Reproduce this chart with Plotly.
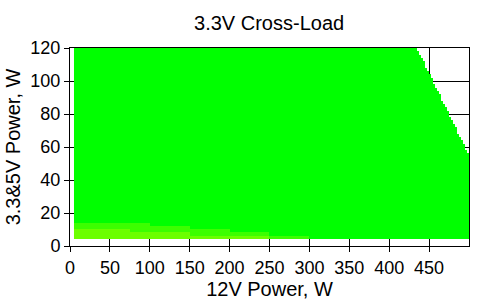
import plotly.graph_objects as go

# ---- data ----
# 12V load levels (W), cell centres
x_levels = [6.25 + 2.5 * i for i in range(198)]
# 3.3V & 5V combined load levels (W), cell centres
y_levels = [5 + 2 * j for j in range(58)]
# combined power limit (12V + 3.3&5V), W
combined_limit = 555
# upper edge of the light deviation band, sampled every 25 W of 12V load
band_x = [0, 25, 50, 75, 100, 125, 150, 175, 200, 225, 250, 275, 300]
light_top = [15, 15, 14, 14, 13, 12, 11, 10, 9, 8, 7, 6, 5]
yellow_top = [10, 10, 10, 9, 9, 8, 7, 7, 6, 6, 5, 4, 4]

# deviation classes: 0 = within tolerance (green), 1 = slight, 2 = larger
z = []
for yv in y_levels:
    row = []
    for xv in x_levels:
        if xv + yv > combined_limit:
            row.append(None)
            continue
        k = None
        for idx, bx in enumerate(band_x):
            if xv >= bx:
                k = idx
        val = 0
        if k is not None:
            if yv < yellow_top[k]:
                val = 2
            elif yv < light_top[k]:
                val = 1
        row.append(val)
    z.append(row)

G, L, Y = "#00FF00", "#3CFF00", "#6CFF00"
fig = go.Figure(go.Heatmap(
    x=x_levels, y=y_levels, z=z, zmin=0, zmax=2,
    colorscale=[[0, G], [0.25, G], [0.25, L], [0.75, L], [0.75, Y], [1, Y]],
    showscale=False, hoverongaps=False,
))

font = dict(family="Liberation Sans, Arial, sans-serif", size=18, color="black")
fig.update_layout(
    width=503, height=306,
    margin=dict(l=69, r=34, t=48, b=58),
    paper_bgcolor="white", plot_bgcolor="white",
    font=font,
    title=dict(text="3.3V Cross-Load", x=0.535, xanchor="center", y=0.925, yanchor="middle",
               font=dict(size=20)),
)
fig.update_xaxes(
    range=[0, 500], tickvals=list(range(0, 451, 50)),
    showgrid=True, gridcolor="black", gridwidth=1,
    showline=True, linecolor="black", linewidth=1, mirror=True,
    ticks="outside", ticklen=5, tickcolor="black",
    layer="below traces", zeroline=False,
    title=dict(text="12V Power, W", standoff=2, font=dict(size=20)),
)
fig.update_yaxes(
    range=[0, 120], tickvals=list(range(0, 121, 20)),
    showgrid=True, gridcolor="black", gridwidth=1,
    showline=True, linecolor="black", linewidth=1, mirror=True,
    ticks="outside", ticklen=5, tickcolor="black",
    layer="below traces", zeroline=False,
    title=dict(text="3.3&5V Power, W", standoff=4, font=dict(size=20)),
)
fig.write_html("out.html")
